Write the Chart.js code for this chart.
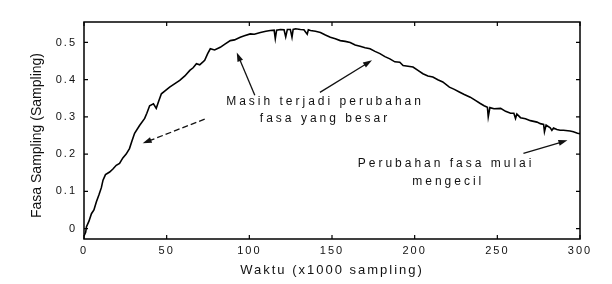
<!DOCTYPE html>
<html>
<head>
<meta charset="utf-8">
<script src="https://cdn.jsdelivr.net/npm/chart.js@4"></script>
<style>
  html, body { margin: 0; padding: 0; background: #fff; }
</style>
</head>
<body>
<canvas id="fasaChart" width="612" height="284"></canvas>
<script>
// Waktu (x1000 sampling) and fasa sampling
const waktu = [
  0, 1, 1.5, 3, 4.5, 6, 7.5, 9, 10.5, 11.5, 13, 15.5, 17.5, 19.5, 21.5, 23.5,
  25.5, 27.5, 29, 30.6, 33.6, 36.7, 38, 39.7, 42, 43.7, 45, 46.8, 49, 51.8,
  54.5, 57.9, 61, 64, 66, 68, 70, 71.8, 73, 74.8, 76.4, 79, 82.4, 85, 88.5,
  91, 94.5, 97, 100.6, 103, 106.7, 110, 112.7, 115, 115.7, 116.5, 118.8, 121,
  122, 123, 124.8, 125.8, 126.5, 128, 130.9, 133, 135, 135.7, 137, 140, 143,
  146, 149, 152, 155, 158, 161, 164, 167, 170, 173, 176, 179, 182, 185, 188,
  191, 193, 196, 199, 202, 205, 208, 211, 214, 217, 221, 224, 227, 230, 233.6,
  236.5, 239.7, 242, 244, 244.5, 245.5, 248, 252, 255, 258, 260, 261, 261.8,
  264, 267, 270, 274, 276, 278, 278.5, 279.5, 282, 283, 284, 286, 288, 290,
  294, 296, 298.5, 300
];
const fasa = [
  -0.02, -0.01, 0.005, 0.02, 0.04, 0.05, 0.072, 0.09, 0.11, 0.13, 0.145, 0.152, 0.16, 0.17, 0.175, 0.19,
  0.2, 0.215, 0.235, 0.256, 0.277, 0.296, 0.31, 0.33, 0.335, 0.323, 0.34, 0.362, 0.37, 0.38,
  0.388, 0.398, 0.41, 0.425, 0.432, 0.443, 0.44, 0.447, 0.452, 0.47, 0.483, 0.48, 0.487, 0.495, 0.505,
  0.507, 0.514, 0.518, 0.523, 0.522, 0.527, 0.53, 0.532, 0.533, 0.51, 0.533, 0.535, 0.534,
  0.515, 0.535, 0.535, 0.514, 0.535, 0.537, 0.535, 0.534, 0.522, 0.534, 0.532, 0.53, 0.527,
  0.52, 0.514, 0.51, 0.505, 0.503, 0.5, 0.493, 0.49, 0.486, 0.483, 0.476, 0.47, 0.462, 0.456, 0.448,
  0.447, 0.438, 0.436, 0.434, 0.425, 0.416, 0.41, 0.407, 0.4, 0.394, 0.38, 0.374, 0.367, 0.36, 0.353,
  0.345, 0.336, 0.33, 0.326, 0.3, 0.325, 0.322, 0.323, 0.315, 0.31, 0.31, 0.296, 0.308,
  0.298, 0.295, 0.29, 0.286, 0.282, 0.28, 0.26, 0.278, 0.271, 0.264, 0.27, 0.266, 0.264, 0.264,
  0.262, 0.26, 0.256, 0.255
];
const xTicks = [0, 50, 100, 150, 200, 250, 300];
const yTicks = [0, 0.1, 0.2, 0.3, 0.4, 0.5];
const xTitle = "Waktu (x1000 sampling)";
const yTitle = "Fasa Sampling (Sampling)";

// notes on the plot, anchored in data units
const notes = [
  { text: "Masih terjadi perubahan", x: 145.8, y: 0.342 },
  { text: "fasa yang besar", x: 145.8, y: 0.294 },
  { text: "Perubahan fasa mulai", x: 219, y: 0.173 },
  { text: "mengecil", x: 220.3, y: 0.127 }
];
const arrows = [
  { from: [103.3, 0.358], to: [92.4, 0.473], dash: [] },
  { from: [142.7, 0.366], to: [174.2, 0.452], dash: [] },
  { from: [73, 0.294], to: [35.5, 0.229], dash: [6, 3] },
  { from: [265.8, 0.202], to: [292.4, 0.237], dash: [] }
];

const fontFam = "'Liberation Sans', Arial, sans-serif";

const spacing = {
  id: "spacing",
  beforeDraw(chart) {
    chart.ctx.letterSpacing = "2px";
  },
  afterDraw(chart) {
    const ctx = chart.ctx;
    const xs = chart.scales.x;
    const ys = chart.scales.y;
    const { left, right, top, bottom } = chart.chartArea;

    ctx.save();
    // frame and inward ticks
    ctx.strokeStyle = "#000";
    ctx.lineWidth = 1.5;
    ctx.strokeRect(left, top, right - left, bottom - top);
    ctx.lineWidth = 1.2;
    ctx.beginPath();
    xTicks.forEach((v) => {
      const px = xs.getPixelForValue(v);
      ctx.moveTo(px, bottom);
      ctx.lineTo(px, bottom - 4);
      ctx.moveTo(px, top);
      ctx.lineTo(px, top + 4);
    });
    yTicks.forEach((v) => {
      const py = ys.getPixelForValue(v);
      ctx.moveTo(left, py);
      ctx.lineTo(left + 4, py);
      ctx.moveTo(right, py);
      ctx.lineTo(right - 4, py);
    });
    ctx.stroke();

    // notes
    ctx.letterSpacing = "3px";
    ctx.fillStyle = "#111";
    ctx.font = "12px " + fontFam;
    ctx.textAlign = "center";
    ctx.textBaseline = "middle";
    notes.forEach((n) => {
      ctx.fillText(n.text, xs.getPixelForValue(n.x), ys.getPixelForValue(n.y));
    });

    // arrows
    ctx.strokeStyle = "#111";
    ctx.fillStyle = "#111";
    ctx.lineWidth = 1.3;
    arrows.forEach((a) => {
      const x1 = xs.getPixelForValue(a.from[0]);
      const y1 = ys.getPixelForValue(a.from[1]);
      const x2 = xs.getPixelForValue(a.to[0]);
      const y2 = ys.getPixelForValue(a.to[1]);
      const ang = Math.atan2(y2 - y1, x2 - x1);
      ctx.setLineDash(a.dash);
      ctx.beginPath();
      ctx.moveTo(x1, y1);
      ctx.lineTo(x2 - 6 * Math.cos(ang), y2 - 6 * Math.sin(ang));
      ctx.stroke();
      ctx.setLineDash([]);
      ctx.beginPath();
      ctx.moveTo(x2, y2);
      ctx.lineTo(x2 - 9 * Math.cos(ang) + 3 * Math.sin(ang), y2 - 9 * Math.sin(ang) - 3 * Math.cos(ang));
      ctx.lineTo(x2 - 9 * Math.cos(ang) - 3 * Math.sin(ang), y2 - 9 * Math.sin(ang) + 3 * Math.cos(ang));
      ctx.closePath();
      ctx.fill();
    });

    // y axis title, no spacing
    ctx.letterSpacing = "0px";
    ctx.fillStyle = "#111";
    ctx.font = "14px " + fontFam;
    ctx.translate(37, (top + bottom) / 2 + 5);
    ctx.rotate(-Math.PI / 2);
    ctx.fillText(yTitle, 0, 0);
    ctx.restore();
    ctx.letterSpacing = "0px";
  }
};

new Chart(document.getElementById("fasaChart"), {
  type: "line",
  data: {
    datasets: [
      {
        data: waktu.map((w, i) => ({ x: w, y: fasa[i] })),
        borderColor: "#000",
        borderWidth: 1.6,
        pointRadius: 0,
        tension: 0,
        fill: false
      }
    ]
  },
  options: {
    responsive: false,
    animation: false,
    layout: { padding: { top: 22, right: 32, left: 0, bottom: 0 } },
    plugins: { legend: { display: false }, tooltip: { enabled: false } },
    scales: {
      x: {
        type: "linear",
        min: 0,
        max: 300,
        afterBuildTicks: (s) => { s.ticks = xTicks.map((v) => ({ value: v })); },
        afterFit: (s) => { s.height = 45; },
        grid: { display: false, drawTicks: false },
        border: { display: false },
        ticks: {
          color: "#111",
          font: { family: fontFam, size: 11 },
          padding: 5,
          maxRotation: 0,
          autoSkip: false
        },
        title: {
          display: true,
          text: xTitle,
          color: "#111",
          font: { family: fontFam, size: 13 },
          padding: { top: 0, bottom: 6 }
        }
      },
      y: {
        min: -0.028,
        max: 0.555,
        afterBuildTicks: (s) => { s.ticks = yTicks.map((v) => ({ value: v })); },
        afterFit: (s) => { s.width = 84; },
        grid: { display: false, drawTicks: false },
        border: { display: false },
        ticks: {
          color: "#111",
          font: { family: fontFam, size: 11 },
          padding: 7,
          autoSkip: false,
          callback: (v) => String(v)
        }
      }
    }
  },
  plugins: [spacing]
});
</script>
</body>
</html>
